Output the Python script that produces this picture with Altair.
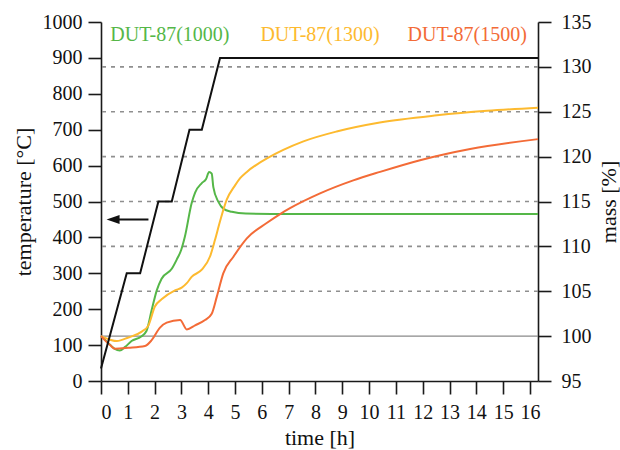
import altair as alt
import pandas as pd

FONT = "Liberation Serif"

# ---------------- data ----------------
time_ticks = list(range(0, 17))
temp_ticks = list(range(0, 1001, 100))
mass_ticks = list(range(95, 136, 5))

temp_t = [0, 0.96, 1.46, 2.14, 2.64, 3.30, 3.76, 4.44, 16.3]
temp_c = [35, 300, 300, 500, 500, 700, 700, 900, 900]

green_t = [0, 0.25, 0.5, 0.7, 0.9, 1.14, 1.5, 1.7, 1.89, 2.08, 2.26, 2.64, 2.82, 2.99,
           3.13, 3.38, 3.51, 3.76, 3.92, 4.03, 4.13, 4.19, 4.38, 4.56, 4.88, 5.4, 7, 10, 13, 16.3]
green_m = [100.0, 99.3, 98.6, 98.4, 98.8, 99.45, 99.95, 100.6, 102.9, 105.1, 106.4, 107.5, 108.5, 109.6,
           111.1, 114.8, 116.0, 117.05, 117.5, 118.3, 118.1, 116.6, 114.95, 114.2, 113.85, 113.65, 113.6, 113.6, 113.6, 113.6]

yellow_t = [0, 0.34, 0.59, 1.02, 1.52, 1.77, 2.01, 2.26, 2.76, 3.01, 3.2, 3.38, 3.76, 4.07, 4.25,
            4.44, 4.69, 5.0, 5.19, 5.44, 6.31, 6.8, 7.55, 8.79, 10.4, 12.53, 14.4, 16.3]
yellow_m = [100.0, 99.6, 99.45, 99.85, 100.5, 101.2, 103.3, 104.1, 105.1, 105.4, 105.9, 106.6, 107.4, 108.9, 110.7,
            112.8, 115.2, 116.8, 117.6, 118.3, 120.0, 120.75, 121.7, 122.8, 123.8, 124.6, 125.1, 125.45]

red_t = [0, 0.34, 0.52, 1.02, 1.64, 1.89, 2.2, 2.45, 2.95, 3.2, 3.51, 3.88, 4.13, 4.32, 4.56,
         4.94, 5.44, 6.18, 6.68, 7.05, 8.17, 9.41, 10.41, 11.9, 13.77, 16.3]
red_m = [100.0, 99.0, 98.6, 98.7, 98.9, 99.55, 100.95, 101.5, 101.8, 100.75, 101.2, 101.8, 102.5, 104.4, 107.0,
         108.85, 110.9, 112.6, 113.6, 114.25, 115.9, 117.35, 118.3, 119.6, 120.85, 121.95]

series_names = ["DUT-87(1000)", "DUT-87(1300)", "DUT-87(1500)"]
series_colors = ["#55b748", "#fdba2f", "#f36b37"]

label_t = [2.57, 8.17, 13.66]
label_temp = [964, 964, 964]

arrow_shaft_t = [0.45, 1.77]
arrow_temp = [450, 450]
arrow_head_t = [0.45]

mass_grid = [105, 110, 115, 120, 125, 130]
mass_base = [100]

# ---------------- tables ----------------
temp_df = pd.DataFrame({"t": temp_t, "temp": temp_c})
curves_df = pd.concat([
    pd.DataFrame({"t": green_t, "mass": green_m, "series": series_names[0]}),
    pd.DataFrame({"t": yellow_t, "mass": yellow_m, "series": series_names[1]}),
    pd.DataFrame({"t": red_t, "mass": red_m, "series": series_names[2]}),
])
labels_df = pd.DataFrame({"t": label_t, "temp": label_temp, "series": series_names})
shaft_df = pd.DataFrame({"t": arrow_shaft_t, "temp": arrow_temp})
head_df = pd.DataFrame({"t": arrow_head_t, "temp": arrow_temp[:1]})
grid_df = pd.DataFrame({"mass": mass_grid})
base_df = pd.DataFrame({"mass": mass_base})

# ---------------- encodings ----------------
AX = dict(labelFont=FONT, labelFontSize=20, labelColor="#111111",
          titleFont=FONT, titleFontSize=22, titleColor="#111111", titleFontWeight="normal",
          domainColor="#1a1a1a", domainWidth=1.6, tickColor="#1a1a1a", tickWidth=1.6, tickSize=13,
          grid=False, format="d")

X = alt.X("t:Q",
          scale=alt.Scale(domain=[0, 16.3], nice=False, zero=False),
          axis=alt.Axis(values=time_ticks, title="time [h]", labelPadding=8,
                        titleY=56, titleBaseline="middle", **AX))
Y_TEMP = alt.Y("temp:Q",
               scale=alt.Scale(domain=[0, 1000], nice=False),
               axis=alt.Axis(orient="left", values=temp_ticks, title="temperature [°C]",
                             labelPadding=6, titleAngle=270, titleX=-78, titleBaseline="middle", **AX))
Y_MASS = alt.Y("mass:Q",
               scale=alt.Scale(domain=[95, 135], nice=False, zero=False),
               axis=alt.Axis(orient="right", values=mass_ticks, title="mass [%]",
                             labelPadding=10, titleAngle=270, titleX=70, titleBaseline="middle", **AX))
COLOR = alt.Color("series:N", scale=alt.Scale(domain=series_names, range=series_colors), legend=None)

# ---------------- mass layer ----------------
grid = alt.Chart(grid_df).mark_rule(color="#8f8f8f", strokeWidth=1.6, strokeDash=[4, 5]).encode(y=Y_MASS)
base = alt.Chart(base_df).mark_rule(color="#8a8a8a", strokeWidth=1.3).encode(y=Y_MASS)
curves = alt.Chart(curves_df).mark_line(strokeWidth=2, interpolate="monotone").encode(
    x=X, y=Y_MASS, color=COLOR, detail="series:N")
mass_layer = alt.layer(grid, base, curves)

# ---------------- temperature layer ----------------
temp_line = alt.Chart(temp_df).mark_line(color="#111111", strokeWidth=2).encode(x=X, y=Y_TEMP)
shaft = alt.Chart(shaft_df).mark_line(color="#111111", strokeWidth=2).encode(x=X, y=Y_TEMP)
head = alt.Chart(head_df).mark_point(shape="M-1,0L1,-0.7L1,0.7Z", size=169, filled=True,
                                     color="#111111", opacity=1).encode(x=X, y=Y_TEMP)
labels = alt.Chart(labels_df).mark_text(font=FONT, fontSize=20, align="center", baseline="middle").encode(
    x=X, y=Y_TEMP, text="series:N", color=COLOR)
temp_layer = alt.layer(temp_line, shaft, head, labels)

chart = alt.layer(mass_layer, temp_layer).resolve_scale(y="independent").properties(
    width=437, height=359,
    autosize=alt.AutoSizeParams(type="none"),
    padding={"left": 101, "top": 22, "right": 82, "bottom": 69},
    background="white",
).configure_view(stroke=None).configure_axis(
    labelFont=FONT, titleFont=FONT, titleFontWeight="normal",
).configure_axisX(
    labelFont=FONT, titleFont=FONT, titleFontWeight="normal",
)

chart.save("out.html", embed_options={"renderer": "svg", "actions": False})
